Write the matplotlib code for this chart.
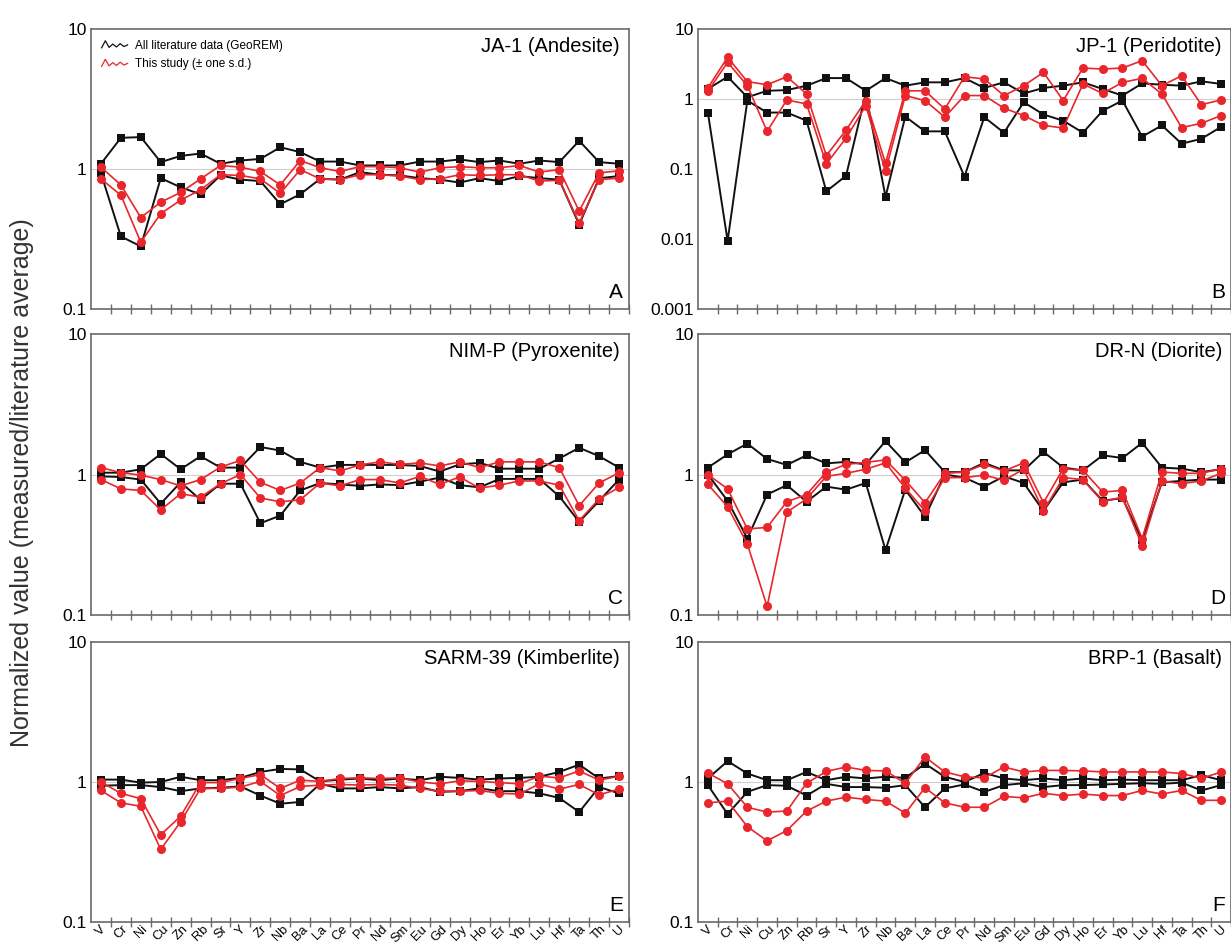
import matplotlib
matplotlib.use("Agg")
import matplotlib.pyplot as plt
import numpy as np
from matplotlib.legend_handler import HandlerBase
from matplotlib.lines import Line2D
from matplotlib.ticker import FixedLocator, NullLocator, FixedFormatter

plt.rcParams["font.family"] = ["Liberation Sans", "DejaVu Sans"]

elements = ["V", "Cr", "Ni", "Cu", "Zn", "Rb", "Sr", "Y", "Zr", "Nb", "Ba", "La", "Ce", "Pr",
            "Nd", "Sm", "Eu", "Gd", "Dy", "Ho", "Er", "Yb", "Lu", "Hf", "Ta", "Th", "U"]

# A: JA-1 (Andesite)
ja1_lit_hi = [1.09, 1.67, 1.69, 1.12, 1.24, 1.29, 1.09, 1.15, 1.18, 1.43, 1.32, 1.13, 1.13, 1.06,
              1.06, 1.06, 1.13, 1.13, 1.17, 1.12, 1.15, 1.09, 1.15, 1.12, 1.59, 1.12, 1.09]
ja1_lit_lo = [0.93, 0.33, 0.28, 0.86, 0.74, 0.66, 0.90, 0.84, 0.82, 0.56, 0.66, 0.85, 0.84, 0.95,
              0.91, 0.90, 0.86, 0.84, 0.80, 0.86, 0.82, 0.89, 0.86, 0.84, 0.40, 0.86, 0.89]
ja1_sd_hi = [1.03, 0.77, 0.45, 0.58, 0.68, 0.85, 1.06, 1.03, 0.96, 0.77, 1.15, 1.02, 0.96, 1.04,
             1.04, 1.02, 0.95, 1.02, 1.04, 1.02, 1.02, 1.06, 0.95, 0.99, 0.50, 0.94, 0.97]
ja1_sd_lo = [0.85, 0.65, 0.30, 0.48, 0.60, 0.71, 0.91, 0.90, 0.85, 0.67, 0.99, 0.85, 0.84, 0.91,
             0.91, 0.89, 0.84, 0.85, 0.91, 0.90, 0.91, 0.91, 0.82, 0.83, 0.41, 0.84, 0.86]

# B: JP-1 (Peridotite)
jp1_lit_hi = [1.39, 2.08, 1.06, 1.31, 1.34, 1.55, 1.99, 1.99, 1.31, 1.99, 1.55, 1.73, 1.73, 1.99,
              1.44, 1.73, 1.20, 1.44, 1.55, 1.73, 1.39, 1.12, 1.67, 1.60, 1.55, 1.79, 1.64]
jp1_lit_lo = [0.64, 0.0094, 0.95, 0.64, 0.64, 0.49, 0.048, 0.08, 1.20, 0.04, 0.56, 0.345, 0.345,
              0.078, 0.55, 0.33, 0.90, 0.60, 0.49, 0.33, 0.68, 0.95, 0.29, 0.42, 0.23, 0.27, 0.40]
jp1_sd_hi = [1.44, 3.94, 1.77, 1.60, 2.08, 1.18, 0.155, 0.36, 0.95, 0.12, 1.31, 1.31, 0.72, 2.08,
             1.93, 1.12, 1.55, 2.40, 0.95, 2.77, 2.68, 2.77, 3.53, 1.55, 2.15, 0.83, 0.97]
jp1_sd_lo = [1.29, 3.34, 1.55, 0.345, 0.97, 0.85, 0.118, 0.277, 0.80, 0.093, 1.12, 0.95, 0.55,
             1.12, 1.12, 0.74, 0.58, 0.42, 0.385, 1.64, 1.20, 1.73, 1.97, 1.18, 0.39, 0.45, 0.58]

# C: NIM-P (Pyroxenite)
nimp_lit_hi = [1.03, 1.03, 1.09, 1.40, 1.09, 1.35, 1.12, 1.12, 1.57, 1.48, 1.23, 1.12, 1.17, 1.17,
               1.17, 1.17, 1.15, 1.05, 1.18, 1.21, 1.10, 1.10, 1.10, 1.30, 1.55, 1.35, 1.12]
nimp_lit_lo = [0.97, 0.96, 0.92, 0.62, 0.88, 0.66, 0.86, 0.86, 0.45, 0.51, 0.77, 0.87, 0.85, 0.83,
               0.85, 0.84, 0.89, 0.95, 0.84, 0.81, 0.93, 0.93, 0.93, 0.70, 0.46, 0.65, 0.92]
nimp_sd_hi = [1.12, 1.03, 0.99, 0.92, 0.83, 0.92, 1.13, 1.26, 0.88, 0.77, 0.87, 1.12, 1.06, 1.17,
              1.23, 1.18, 1.21, 1.15, 1.23, 1.12, 1.23, 1.23, 1.23, 1.12, 0.60, 0.87, 1.03]
nimp_sd_lo = [0.92, 0.79, 0.77, 0.56, 0.73, 0.69, 0.86, 1.00, 0.68, 0.64, 0.66, 0.87, 0.83, 0.92,
              0.92, 0.87, 0.97, 0.85, 0.96, 0.80, 0.84, 0.90, 0.90, 0.84, 0.47, 0.67, 0.81]

# D: DR-N (Diorite)
drn_lit_hi = [1.12, 1.39, 1.66, 1.29, 1.17, 1.37, 1.20, 1.23, 1.18, 1.73, 1.22, 1.49, 1.04, 1.04,
              1.21, 1.07, 1.07, 1.45, 1.12, 1.07, 1.37, 1.31, 1.68, 1.12, 1.10, 1.04, 1.09]
drn_lit_lo = [1.00, 0.65, 0.35, 0.72, 0.84, 0.64, 0.82, 0.78, 0.87, 0.29, 0.78, 0.50, 1.00, 0.95,
              0.82, 0.97, 0.87, 0.55, 0.88, 0.92, 0.65, 0.68, 0.34, 0.88, 0.90, 0.92, 0.92]
drn_sd_hi = [1.00, 0.79, 0.41, 0.42, 0.64, 0.72, 1.04, 1.18, 1.22, 1.27, 0.91, 0.63, 1.02, 1.04,
             1.18, 1.06, 1.21, 0.63, 1.10, 1.07, 0.75, 0.77, 0.35, 1.04, 1.02, 1.02, 1.10]
drn_sd_lo = [0.85, 0.59, 0.32, 0.115, 0.54, 0.67, 0.97, 1.02, 1.09, 1.21, 0.80, 0.55, 0.95, 0.95,
             0.99, 0.91, 1.09, 0.55, 0.95, 0.92, 0.64, 0.69, 0.31, 0.90, 0.86, 0.90, 1.02]

# E: SARM-39 (Kimberlite)
sarm_lit_hi = [1.04, 1.04, 0.99, 1.00, 1.09, 1.03, 1.03, 1.07, 1.18, 1.24, 1.23, 1.01, 1.04, 1.06,
               1.03, 1.06, 1.03, 1.09, 1.07, 1.04, 1.06, 1.07, 1.09, 1.18, 1.33, 1.06, 1.10]
sarm_lit_lo = [0.94, 0.95, 0.95, 0.92, 0.86, 0.90, 0.91, 0.93, 0.80, 0.70, 0.72, 0.97, 0.90, 0.90,
               0.92, 0.90, 0.92, 0.85, 0.86, 0.90, 0.86, 0.86, 0.83, 0.77, 0.61, 0.92, 0.83]
sarm_sd_hi = [1.00, 0.83, 0.76, 0.42, 0.57, 0.99, 0.99, 1.06, 1.13, 0.90, 1.03, 1.01, 1.06, 1.07,
              1.06, 1.07, 1.00, 0.97, 1.02, 1.01, 0.99, 0.97, 1.10, 1.07, 1.20, 1.03, 1.10]
sarm_sd_lo = [0.87, 0.71, 0.67, 0.33, 0.52, 0.90, 0.90, 0.92, 1.01, 0.80, 0.93, 0.95, 0.96, 0.95,
              0.96, 0.95, 0.90, 0.86, 0.86, 0.87, 0.83, 0.82, 0.97, 0.89, 0.96, 0.81, 0.89]

# F: BRP-1 (Basalt)
brp_lit_hi = [1.06, 1.41, 1.15, 1.03, 1.03, 1.18, 1.03, 1.09, 1.06, 1.09, 1.07, 1.35, 1.09, 1.00,
              1.16, 1.06, 1.03, 1.06, 1.03, 1.06, 1.03, 1.04, 1.03, 1.03, 1.03, 1.12, 1.03]
brp_lit_lo = [0.95, 0.59, 0.85, 0.95, 0.94, 0.80, 0.97, 0.92, 0.92, 0.91, 0.95, 0.66, 0.90, 0.96,
              0.85, 0.95, 0.98, 0.92, 0.95, 0.95, 0.96, 0.97, 0.98, 0.97, 0.99, 0.87, 0.95]
brp_sd_hi = [1.16, 0.97, 0.66, 0.61, 0.62, 0.98, 1.19, 1.28, 1.21, 1.20, 0.98, 1.51, 1.18, 1.09,
             1.07, 1.28, 1.18, 1.21, 1.21, 1.20, 1.18, 1.18, 1.18, 1.18, 1.15, 1.06, 1.18]
brp_sd_lo = [0.71, 0.73, 0.48, 0.38, 0.45, 0.62, 0.73, 0.78, 0.75, 0.73, 0.60, 0.91, 0.71, 0.66,
             0.66, 0.79, 0.77, 0.83, 0.80, 0.82, 0.80, 0.80, 0.87, 0.82, 0.87, 0.74, 0.74]

RED = "#e8262b"
BLACK = "#111111"
SPINE = "#6a6a6a"

panels = [
    ("JA-1 (Andesite)", "A", (0.1, 10), ja1_lit_hi, ja1_lit_lo, ja1_sd_hi, ja1_sd_lo),
    ("JP-1 (Peridotite)", "B", (0.001, 10), jp1_lit_hi, jp1_lit_lo, jp1_sd_hi, jp1_sd_lo),
    ("NIM-P (Pyroxenite)", "C", (0.1, 10), nimp_lit_hi, nimp_lit_lo, nimp_sd_hi, nimp_sd_lo),
    ("DR-N (Diorite)", "D", (0.1, 10), drn_lit_hi, drn_lit_lo, drn_sd_hi, drn_sd_lo),
    ("SARM-39 (Kimberlite)", "E", (0.1, 10), sarm_lit_hi, sarm_lit_lo, sarm_sd_hi, sarm_sd_lo),
    ("BRP-1 (Basalt)", "F", (0.1, 10), brp_lit_hi, brp_lit_lo, brp_sd_hi, brp_sd_lo),
]


class HandlerSquiggle(HandlerBase):
    """Small wavy line used as legend icon."""
    def create_artists(self, legend, orig_handle, xdescent, ydescent,
                       width, height, fontsize, trans):
        xs = np.linspace(0, width, 8) - xdescent
        ys = np.array([0.1, 0.95, 0.15, 0.55, 0.2, 0.6, 0.25, 0.45]) * height - ydescent
        return [Line2D(xs, ys, color=orig_handle.get_color(), lw=0.9, transform=trans)]


W, H = 1231, 947
fig = plt.figure(figsize=(W / 100, H / 100), dpi=100)

col_x = [91, 698]
col_w = [538, 533]
rows = [(29, 309), (334, 615), (642, 922)]

x = np.arange(len(elements))
for i, (title, letter, ylim, lit_hi, lit_lo, sd_hi, sd_lo) in enumerate(panels):
    r, c = divmod(i, 2)
    top, bot = rows[r]
    ax_w = col_w[c]
    ax = fig.add_axes([col_x[c] / W, 1 - bot / H, ax_w / W, (bot - top) / H])
    ax.set_yscale("log")
    ax.axhline(1, color="#cfcfcf", lw=0.8, zorder=1)

    for vals in (lit_hi, lit_lo):
        ax.plot(x, vals, color=BLACK, lw=1.4, marker="s", ms=6.3, mew=0, zorder=2)
    for vals in (sd_hi, sd_lo):
        ax.plot(x, vals, color=RED, lw=1.2, marker="o", ms=6.5, mew=0, zorder=3)

    ax.set_xlim(-0.5, len(elements) - 0.5)
    ax.set_ylim(*ylim)

    decades = 10.0 ** np.arange(np.log10(ylim[0]), np.log10(ylim[1]) + 1)
    ax.yaxis.set_major_locator(FixedLocator(decades))
    ax.yaxis.set_major_formatter(FixedFormatter([f"{d:g}" for d in decades]))
    ax.yaxis.set_minor_locator(NullLocator())
    ax.tick_params(axis="y", length=0, pad=3, labelsize=12.5)

    ax.set_xticks(np.arange(0.5, len(elements)))
    ax.tick_params(axis="x", which="major", direction="inout", length=7, width=1,
                   color=SPINE, labelbottom=False)
    if r == 2:
        ax.set_xticks(x, minor=True)
        ax.set_xticklabels(elements, minor=True, rotation=45, ha="center", va="top")
        ax.tick_params(axis="x", which="minor", length=0, pad=1, labelsize=9.3)

    for s in ax.spines.values():
        s.set_color(SPINE)
        s.set_linewidth(1.2)

    ax.text(1 - 9 / ax_w, 1 - 17 / 280, title, transform=ax.transAxes,
            ha="right", va="center", fontsize=14.5)
    ax.text(1 - 6 / ax_w, 7 / 280, letter, transform=ax.transAxes,
            ha="right", va="bottom", fontsize=15)

    if i == 0:
        handles = [Line2D([], [], color=BLACK), Line2D([], [], color=RED)]
        ax.legend(handles, ["All literature data (GeoREM)", "This study (\u00b1 one s.d.)"],
                  handler_map={Line2D: HandlerSquiggle()}, loc="upper left",
                  frameon=False, fontsize=8.5, handlelength=2.2, handletextpad=0.6,
                  borderaxespad=0.5, labelspacing=0.55)

fig.text(22 / W, 1 - 483 / H, "Normalized value (measured/literature average)",
         rotation=90, ha="center", va="center", fontsize=18, color="#333333")

fig.savefig("out.png", dpi=100)
